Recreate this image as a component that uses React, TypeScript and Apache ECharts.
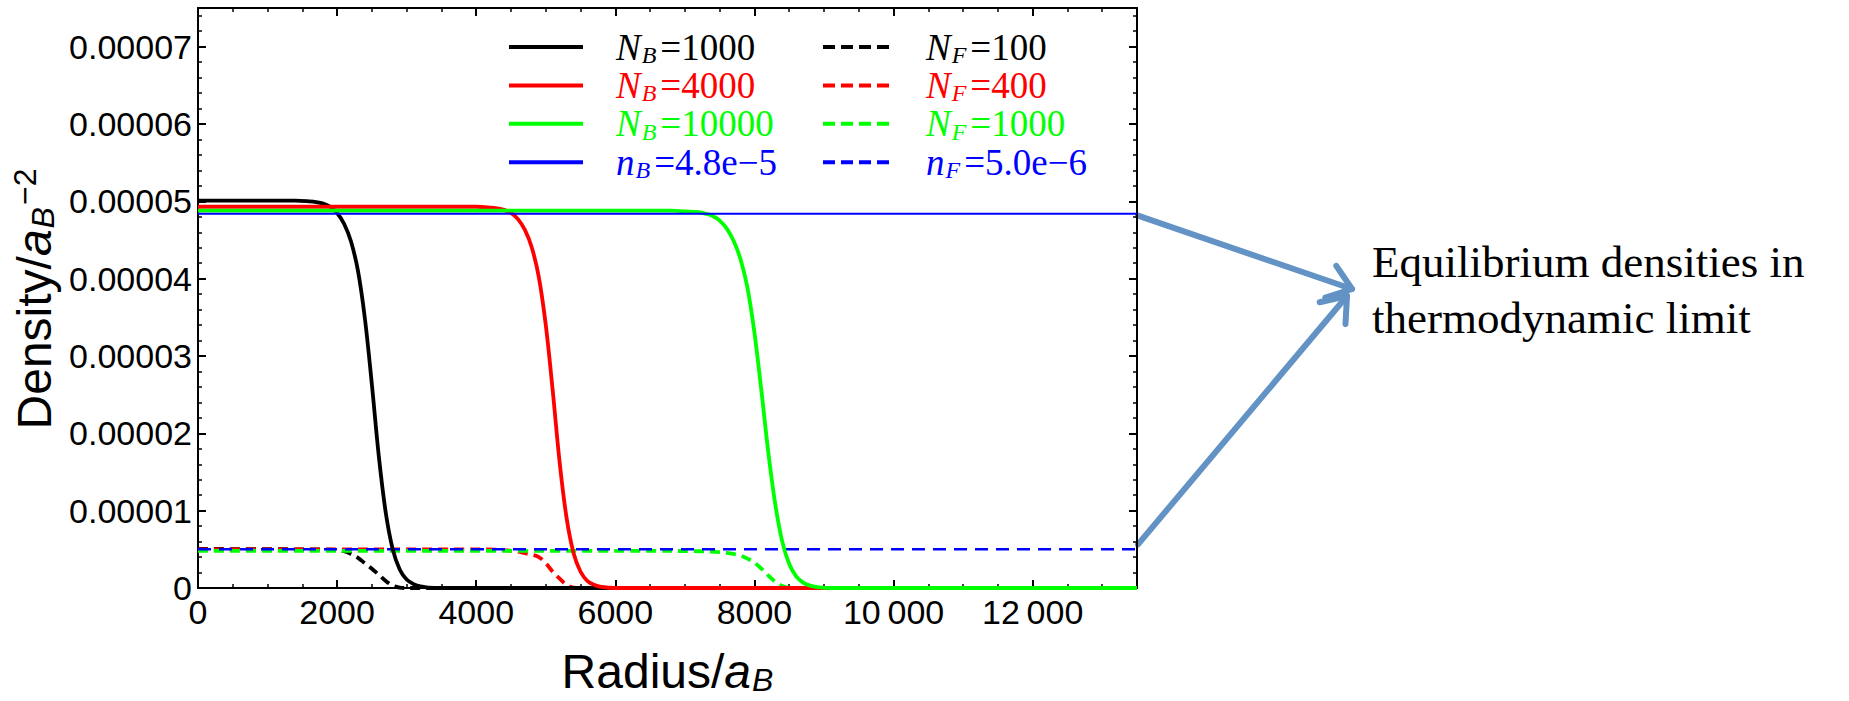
import React, { useEffect, useRef } from "react";
import * as echarts from "echarts";

// ---------------- data ----------------
const radiusMax = 13500;
const densityMax = 0.000075;

const xTickValues = [0, 2000, 4000, 6000, 8000, 10000, 12000];
const xTickLabels = ["0", "2000", "4000", "6000", "8000", "10\u2009000", "12\u2009000"];
const yTickValues = [0, 0.00001, 0.00002, 0.00003, 0.00004, 0.00005, 0.00006, 0.00007];
const yTickLabels = ["0", "0.00001", "0.00002", "0.00003", "0.00004", "0.00005", "0.00006", "0.00007"];

// Bosons (solid)
const bosonN1000: [number, number][] = [
  [0, 5.01e-5], [1400, 5.01e-5], [1600, 5.0e-5], [1700, 4.99e-5], [1800, 4.97e-5], [1900, 4.93e-5],
  [2000, 4.85e-5], [2100, 4.71e-5], [2200, 4.48e-5], [2300, 4.1e-5], [2400, 3.48e-5], [2500, 2.63e-5],
  [2600, 1.7e-5], [2700, 0.97e-5], [2800, 0.5e-5], [2900, 0.24e-5], [3000, 0.11e-5], [3100, 0.05e-5],
  [3200, 0.02e-5], [3400, 0], [13500, 0],
];
const bosonN4000: [number, number][] = [
  [0, 4.93e-5], [4000, 4.93e-5], [4200, 4.92e-5], [4300, 4.91e-5], [4400, 4.89e-5], [4500, 4.85e-5],
  [4600, 4.77e-5], [4700, 4.63e-5], [4800, 4.4e-5], [4900, 4.02e-5], [5000, 3.4e-5], [5100, 2.55e-5],
  [5200, 1.62e-5], [5300, 0.9e-5], [5400, 0.45e-5], [5500, 0.21e-5], [5600, 0.09e-5], [5700, 0.04e-5],
  [5800, 0.015e-5], [6000, 0], [13500, 0],
];
const bosonN10000: [number, number][] = [
  [0, 4.88e-5], [6800, 4.88e-5], [7000, 4.87e-5], [7200, 4.86e-5], [7300, 4.84e-5], [7400, 4.81e-5],
  [7500, 4.75e-5], [7600, 4.65e-5], [7700, 4.49e-5], [7800, 4.25e-5], [7900, 3.88e-5], [8000, 3.3e-5],
  [8100, 2.55e-5], [8200, 1.75e-5], [8300, 1.08e-5], [8400, 0.6e-5], [8500, 0.31e-5], [8600, 0.15e-5],
  [8700, 0.07e-5], [8800, 0.03e-5], [8900, 0.012e-5], [9100, 0], [13500, 0],
];
const bosonBulk: [number, number][] = [[0, 4.84e-5], [13500, 4.84e-5]];

// Fermions (dashed)
const fermionN100: [number, number][] = [
  [0, 0.505e-5], [1500, 0.5e-5], [1900, 0.495e-5], [2000, 0.49e-5], [2100, 0.475e-5], [2200, 0.44e-5],
  [2300, 0.39e-5], [2400, 0.32e-5], [2500, 0.25e-5], [2600, 0.17e-5], [2700, 0.09e-5], [2800, 0.03e-5],
  [2900, 0.005e-5], [3000, 0], [13500, 0],
];
const fermionN400: [number, number][] = [
  [0, 0.5e-5], [4000, 0.5e-5], [4400, 0.49e-5], [4600, 0.47e-5], [4700, 0.45e-5], [4800, 0.43e-5],
  [4900, 0.4e-5], [5000, 0.32e-5], [5100, 0.21e-5], [5200, 0.12e-5], [5300, 0.04e-5], [5400, 0.005e-5],
  [5500, 0], [13500, 0],
];
const fermionN1000: [number, number][] = [
  [0, 0.48e-5], [6500, 0.48e-5], [7200, 0.475e-5], [7500, 0.465e-5], [7600, 0.455e-5], [7700, 0.44e-5],
  [7800, 0.42e-5], [7900, 0.38e-5], [8000, 0.33e-5], [8100, 0.25e-5], [8200, 0.16e-5], [8300, 0.08e-5],
  [8400, 0.025e-5], [8500, 0.003e-5], [8600, 0], [13500, 0],
];
const fermionBulk: [number, number][] = [[0, 0.5e-5], [13500, 0.5e-5]];

// Legend labels
const curveColors = ["#000000", "#ff0000", "#00ff00", "#0000ff"];
const bosonSymbols = ["N", "N", "N", "n"];
const bosonValues = ["=1000", "=4000", "=10000", "=4.8e\u22125"];
const fermionSymbols = ["N", "N", "N", "n"];
const fermionValues = ["=100", "=400", "=1000", "=5.0e\u22126"];

const annotationLines = ["Equilibrium densities in", "thermodynamic limit"];

// ---------------- styling ----------------
const SANS = "'Liberation Sans', Arial, Helvetica, sans-serif";
const SERIF = "'Liberation Serif', 'Times New Roman', Times, serif";
const ARROW = "#6392c5";

const bosonSeries = [bosonN1000, bosonN4000, bosonN10000, bosonBulk];
const fermionSeries = [fermionN100, fermionN400, fermionN1000, fermionBulk];

function xAxisDef(position: "bottom" | "top", major: boolean) {
  return {
    type: "value",
    position,
    min: 0,
    max: radiusMax,
    interval: major ? 2000 : 500,
    axisLine: { show: major, onZero: false, lineStyle: { color: "#000", width: 2 } },
    axisTick: { show: true, inside: true, length: major ? 8 : 4, lineStyle: { color: "#000", width: major ? 2 : 1.5 } },
    axisLabel: {
      show: major && position === "bottom",
      showMaxLabel: false,
      margin: 7,
      fontSize: 34,
      fontFamily: SANS,
      color: "#000",
      formatter: (v: number) => {
        const i = xTickValues.indexOf(Math.round(v));
        return i >= 0 ? xTickLabels[i] : "";
      },
    },
    splitLine: { show: false },
  };
}

function yAxisDef(position: "left" | "right", major: boolean) {
  return {
    type: "value",
    position,
    min: 0,
    max: densityMax,
    interval: major ? 0.00001 : 0.000002,
    axisLine: { show: major, onZero: false, lineStyle: { color: "#000", width: 2 } },
    axisTick: { show: true, inside: true, length: major ? 8 : 4, lineStyle: { color: "#000", width: major ? 2 : 1.5 } },
    axisLabel: {
      show: major && position === "left",
      showMaxLabel: false,
      margin: 6,
      fontSize: 34,
      fontFamily: SANS,
      color: "#000",
      formatter: (v: number) => {
        let best = -1;
        yTickValues.forEach((t, i) => {
          if (Math.abs(t - v) < 1e-9) best = i;
        });
        return best >= 0 ? yTickLabels[best] : "";
      },
    },
    splitLine: { show: false },
  };
}

function buildOption() {
  const series: any[] = [];
  fermionSeries.forEach((data, i) => {
    const isBulk = i === 3;
    series.push({
      type: "line",
      name: `${fermionSymbols[i]}_F${fermionValues[i]}`,
      data,
      xAxisIndex: 0,
      yAxisIndex: 0,
      showSymbol: false,
      symbol: "none",
      smooth: isBulk ? false : 0.35,
      z: 2 + i * 0.01,
      lineStyle: {
        color: curveColors[i],
        width: isBulk ? 2.5 : 3.8,
        type: isBulk ? [13, 8] : [10, 6],
      },
      emphasis: { disabled: true },
    });
  });
  bosonSeries.forEach((data, i) => {
    const isBulk = i === 3;
    series.push({
      type: "line",
      name: `${bosonSymbols[i]}_B${bosonValues[i]}`,
      data,
      xAxisIndex: 0,
      yAxisIndex: 0,
      showSymbol: false,
      symbol: "none",
      smooth: isBulk ? false : 0.35,
      z: 3 + i * 0.01,
      lineStyle: { color: curveColors[i], width: isBulk ? 2 : 3.8, type: "solid" },
      emphasis: { disabled: true },
    });
  });

  return {
    animation: false,
    backgroundColor: "#ffffff",
    grid: { left: 198, top: 8, width: 939, height: 580, containLabel: false, outerBoundsMode: "none" },
    xAxis: [xAxisDef("bottom", true), xAxisDef("bottom", false), xAxisDef("top", true), xAxisDef("top", false)],
    yAxis: [yAxisDef("left", true), yAxisDef("left", false), yAxisDef("right", true), yAxisDef("right", false)],
    series,
  };
}

function legendRich(color: string) {
  return {
    it: { fontFamily: SERIF, fontSize: 37, fontStyle: "italic", fill: color, lineHeight: 40 },
    sb: {
      fontFamily: SERIF, fontSize: 24, fontStyle: "italic", fill: color,
      lineHeight: 18, verticalAlign: "bottom", padding: [0, 4, 0, 1],
    },
    rm: { fontFamily: SERIF, fontSize: 37, fill: color, lineHeight: 40 },
  };
}

function arrowEls(from: number[], tip: number[]) {
  const ang = Math.atan2(tip[1] - from[1], tip[0] - from[0]);
  const L = 28;
  const spread = (37 * Math.PI) / 180;
  const b1 = [tip[0] - L * Math.cos(ang - spread), tip[1] - L * Math.sin(ang - spread)];
  const b2 = [tip[0] - L * Math.cos(ang + spread), tip[1] - L * Math.sin(ang + spread)];
  return [
    {
      type: "line",
      silent: true,
      shape: { x1: from[0], y1: from[1], x2: tip[0], y2: tip[1] },
      style: { stroke: ARROW, lineWidth: 6, lineCap: "round" },
    },
    {
      type: "polyline",
      silent: true,
      shape: { points: [b1, tip, b2] },
      style: { stroke: ARROW, lineWidth: 6, lineCap: "round", lineJoin: "round", fill: null },
    },
  ];
}

function buildGraphic(pBose: number[], pFermi: number[]) {
  const els: any[] = [];
  // legend
  const rowY0 = 47;
  const rowGap = 38.4;
  const cols = [
    { lineX1: 509, lineX2: 583, textX: 616, syms: bosonSymbols, vals: bosonValues, sub: "B", dashed: false },
    { lineX1: 823, lineX2: 891, textX: 926, syms: fermionSymbols, vals: fermionValues, sub: "F", dashed: true },
  ];
  cols.forEach((c) => {
    c.vals.forEach((val, i) => {
      const y = rowY0 + i * rowGap;
      const color = curveColors[i];
      els.push({
        type: "line",
        silent: true,
        shape: { x1: c.lineX1, y1: y, x2: c.lineX2, y2: y },
        style: { stroke: color, lineWidth: 4, lineDash: c.dashed ? [12, 6] : null },
      });
      els.push({
        type: "text",
        silent: true,
        x: c.textX,
        y,
        style: {
          text: `{it|${c.syms[i]}}{sb|${c.sub}}{rm|${val}}`,
          align: "left",
          verticalAlign: "middle",
          fill: color,
          rich: legendRich(color),
        },
      });
    });
  });

  // axis titles
  els.push({
    type: "text",
    silent: true,
    x: 667.5,
    y: 671,
    style: {
      text: "{m|Radius/}{i|a}{s|B}",
      align: "center",
      verticalAlign: "middle",
      fill: "#000",
      rich: {
        m: { fontFamily: SANS, fontSize: 48, lineHeight: 50, fill: "#000" },
        i: { fontFamily: SANS, fontSize: 48, fontStyle: "italic", lineHeight: 50, fill: "#000" },
        s: {
          fontFamily: SANS, fontSize: 32, fontStyle: "italic", lineHeight: 26,
          verticalAlign: "bottom", padding: [0, 0, 0, 1], fill: "#000",
        },
      },
    },
  });
  els.push({
    type: "text",
    silent: true,
    x: 34,
    y: 299,
    rotation: Math.PI / 2,
    style: {
      text: "{m|Density/}{i|a}{s|B}{p|\u22122}",
      align: "center",
      verticalAlign: "middle",
      fill: "#000",
      rich: {
        m: { fontFamily: SANS, fontSize: 48, lineHeight: 50, fill: "#000" },
        i: { fontFamily: SANS, fontSize: 48, fontStyle: "italic", lineHeight: 50, fill: "#000" },
        s: {
          fontFamily: SANS, fontSize: 32, fontStyle: "italic", lineHeight: 26,
          verticalAlign: "bottom", padding: [0, 0, 0, 1], fill: "#000",
        },
        p: {
          fontFamily: SANS, fontSize: 32, lineHeight: 26,
          verticalAlign: "top", padding: [0, 0, 0, 2], fill: "#000",
        },
      },
    },
  });

  // annotation
  els.push({
    type: "text",
    silent: true,
    x: 1372,
    y: 234,
    style: {
      text: annotationLines.join("\n"),
      fontFamily: SERIF,
      fontSize: 45,
      lineHeight: 56,
      fill: "#000",
      align: "left",
      verticalAlign: "top",
    },
  });

  // arrows
  els.push(...arrowEls([pBose[0] + 1, pBose[1] + 2], [1352, 289]));
  els.push(...arrowEls([pFermi[0] + 1, pFermi[1] - 5], [1347, 296]));
  return els;
}

export default function App() {
  const ref = useRef<HTMLDivElement>(null);
  useEffect(() => {
    document.body.style.margin = "0";
    const el = ref.current;
    if (!el) return;
    const chart = echarts.init(el, null, { renderer: "svg" });
    chart.setOption(buildOption() as any);
    const pBose = chart.convertToPixel({ xAxisIndex: 0, yAxisIndex: 0 }, [radiusMax, bosonBulk[1][1]]) as number[];
    const pFermi = chart.convertToPixel({ xAxisIndex: 0, yAxisIndex: 0 }, [radiusMax, fermionBulk[1][1]]) as number[];
    chart.setOption({ graphic: buildGraphic(pBose, pFermi) } as any);
    return () => chart.dispose();
  }, []);
  return <div ref={ref} style={{ width: 1849, height: 701, background: "#fff" }} />;
}
